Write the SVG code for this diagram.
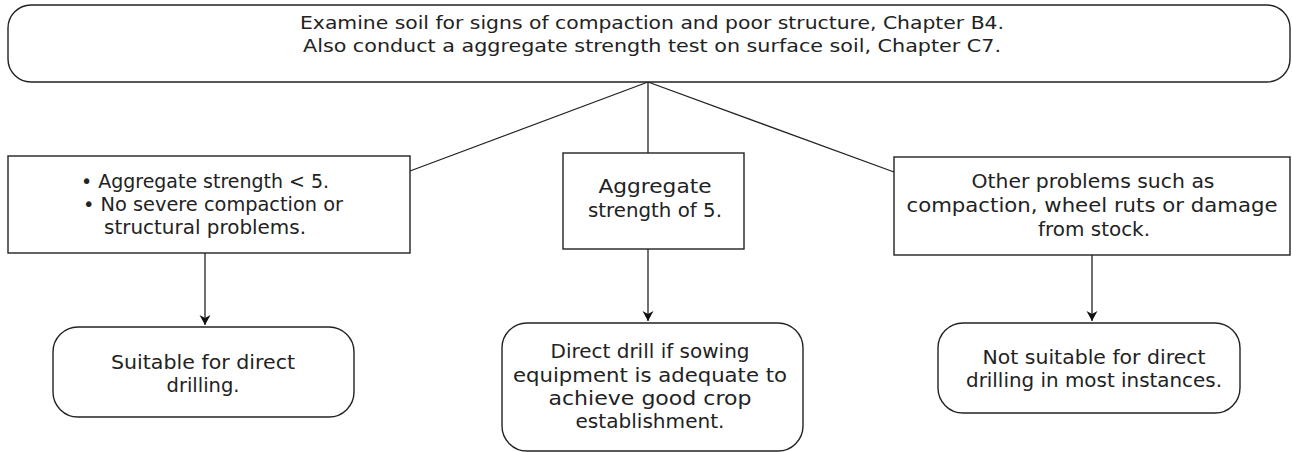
<svg xmlns="http://www.w3.org/2000/svg" width="1292" height="452" viewBox="0 0 1292 452">
<style>
.box{fill:#fff;stroke:#222;stroke-width:1.4}
.conn{fill:none;stroke:#222;stroke-width:1.3}
text{font-family:"DejaVu Sans","Liberation Sans",sans-serif;fill:#222;text-anchor:middle}
.t{font-size:17.5px}
.b{font-size:19px}
</style>
<defs>
<marker id="ah" viewBox="0 0 10 12" refX="10" refY="6" markerWidth="13" markerHeight="12" markerUnits="userSpaceOnUse" orient="auto">
<path d="M0,0.5 L10,6 L0,11.5 L3,6 z" fill="#111"/>
</marker>
</defs>
<rect width="1292" height="452" fill="#fff"/>
<g id="connectors">
<line class="conn" x1="648" y1="82" x2="410" y2="171"/>
<line class="conn" x1="648" y1="82" x2="648" y2="153"/>
<line class="conn" x1="648" y1="82" x2="894" y2="172"/>
<line class="conn" x1="205" y1="253" x2="205" y2="325" marker-end="url(#ah)"/>
<line class="conn" x1="648" y1="249" x2="648" y2="321" marker-end="url(#ah)"/>
<line class="conn" x1="1092" y1="255" x2="1092" y2="321" marker-end="url(#ah)"/>
</g>
<g id="top">
<rect class="box" x="8" y="5" width="1282" height="77" rx="23"/>
<text class="t" x="652" y="29" textLength="704" lengthAdjust="spacingAndGlyphs">Examine soil for signs of compaction and poor structure, Chapter B4.</text>
<text class="t" x="652" y="52" textLength="698" lengthAdjust="spacingAndGlyphs">Also conduct a aggregate strength test on surface soil, Chapter C7.</text>
</g>
<g id="left">
<rect class="box" x="8" y="156" width="402" height="97"/>
<text class="b" x="205" y="188" textLength="248" lengthAdjust="spacingAndGlyphs">• Aggregate strength &lt; 5.</text>
<text class="b" x="213" y="211" textLength="260" lengthAdjust="spacingAndGlyphs">• No severe compaction or</text>
<text class="b" x="205" y="234" textLength="202" lengthAdjust="spacingAndGlyphs">structural problems.</text>
</g>
<g id="middle">
<rect class="box" x="563" y="153" width="181" height="96"/>
<text class="b" x="655" y="193" textLength="113" lengthAdjust="spacingAndGlyphs">Aggregate</text>
<text class="b" x="655" y="217" textLength="134" lengthAdjust="spacingAndGlyphs">strength of 5.</text>
</g>
<g id="right">
<rect class="box" x="894" y="157" width="396" height="98"/>
<text class="b" x="1093" y="188" textLength="243" lengthAdjust="spacingAndGlyphs">Other problems such as</text>
<text class="b" x="1092" y="212" textLength="371" lengthAdjust="spacingAndGlyphs">compaction, wheel ruts or damage</text>
<text class="b" x="1094" y="236" textLength="112" lengthAdjust="spacingAndGlyphs">from stock.</text>
</g>
<g id="out-left">
<rect class="box" x="53" y="327" width="301" height="90" rx="25"/>
<text class="b" x="203" y="369" textLength="184" lengthAdjust="spacingAndGlyphs">Suitable for direct</text>
<text class="b" x="203" y="392" textLength="73" lengthAdjust="spacingAndGlyphs">drilling.</text>
</g>
<g id="out-middle">
<rect class="box" x="502" y="323" width="301" height="128" rx="25"/>
<text class="b" x="650" y="358" textLength="199" lengthAdjust="spacingAndGlyphs">Direct drill if sowing</text>
<text class="b" x="650" y="382" textLength="274" lengthAdjust="spacingAndGlyphs">equipment is adequate to</text>
<text class="b" x="650" y="405" textLength="203" lengthAdjust="spacingAndGlyphs">achieve good crop</text>
<text class="b" x="650" y="428" textLength="149" lengthAdjust="spacingAndGlyphs">establishment.</text>
</g>
<g id="out-right">
<rect class="box" x="938" y="323" width="302" height="90" rx="25"/>
<text class="b" x="1094" y="364" textLength="223" lengthAdjust="spacingAndGlyphs">Not suitable for direct</text>
<text class="b" x="1094" y="387" textLength="256" lengthAdjust="spacingAndGlyphs">drilling in most instances.</text>
</g>
</svg>
